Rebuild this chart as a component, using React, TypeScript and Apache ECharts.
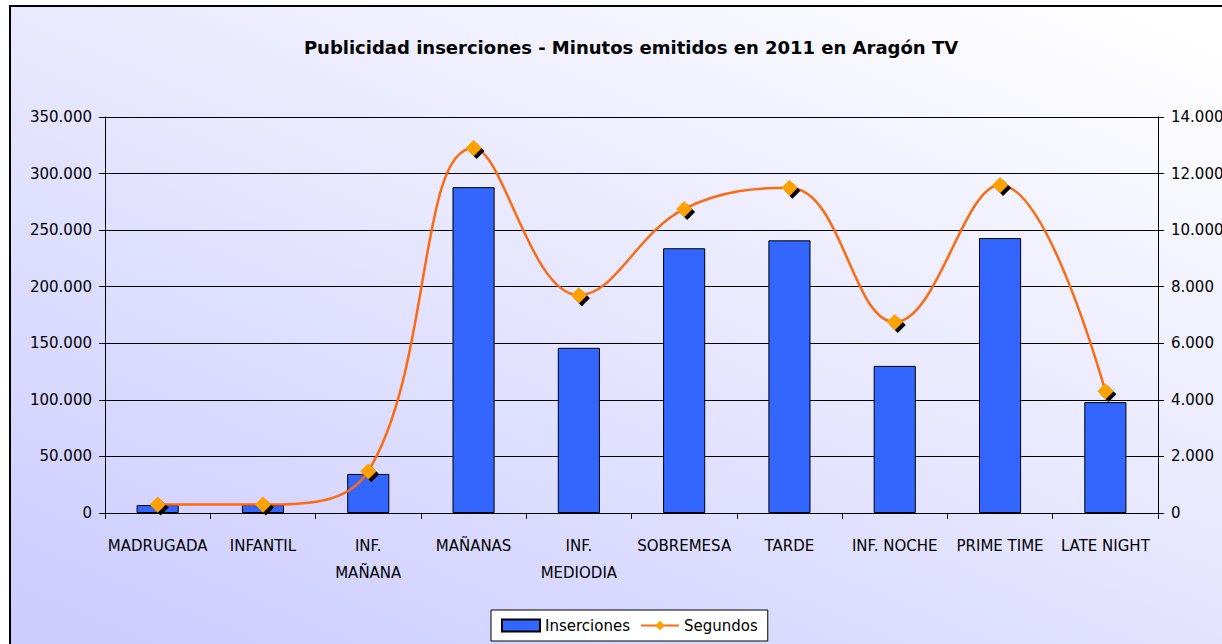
import React, { useEffect, useRef } from "react";
import * as echarts from "echarts";

const categories = [
  "MADRUGADA",
  "INFANTIL",
  "INF.\nMAÑANA",
  "MAÑANAS",
  "INF.\nMEDIODIA",
  "SOBREMESA",
  "TARDE",
  "INF. NOCHE",
  "PRIME TIME",
  "LATE NIGHT",
];
const inserciones = [7000, 7000, 34500, 288000, 146000, 234000, 241000, 130000, 243000, 98000];
const segundos = [300, 300, 1480, 12900, 7700, 10750, 11500, 6750, 11600, 4300];
const titleText = "Publicidad inserciones - Minutos emitidos en 2011 en Aragón TV";

const fmt = (v: number) => String(v).replace(/\B(?=(\d{3})+(?!\d))/g, ".");

const FONT = "DejaVu Sans";

export default function App() {
  const ref = useRef<HTMLDivElement>(null);
  useEffect(() => {
    if (!ref.current) return;
    const chart = echarts.init(ref.current, null, { renderer: "svg" });
    chart.setOption({
      animation: false,
      backgroundColor: new echarts.graphic.LinearGradient(0.9, 0, 0.1, 1, [
        { offset: 0, color: "#ffffff" },
        { offset: 1, color: "#ccccff" },
      ]),
      textStyle: { fontFamily: FONT },
      title: {
        text: titleText,
        left: 615,
        textAlign: "center",
        top: 26,
        textStyle: { fontFamily: FONT, fontSize: 18, fontWeight: "bold", color: "#000" },
      },
      legend: {
        left: 480,
        top: 603,
        backgroundColor: "#ffffff",
        borderColor: "#000",
        borderWidth: 1,
        borderRadius: 0,
        padding: [8, 10, 8, 10],
        itemGap: 10,
        itemWidth: 38,
        itemHeight: 12,
        textStyle: { fontFamily: FONT, fontSize: 15, color: "#000" },
        data: [
          { name: "Inserciones", icon: "rect" },
          { name: "Segundos" },
        ],
      },
      grid: { left: 94, right: 93, top: 110, height: 396 },
      xAxis: {
        type: "category",
        data: categories,
        axisLine: { lineStyle: { color: "#000", width: 1 } },
        axisTick: { show: true, length: 6, lineStyle: { color: "#000" } },
        axisLabel: {
          color: "#000",
          fontFamily: FONT,
          fontSize: 15,
          margin: 19,
          lineHeight: 27,
          interval: 0,
        },
      },
      yAxis: [
        {
          type: "value",
          min: 0,
          max: 350000,
          interval: 50000,
          axisLine: { show: true, lineStyle: { color: "#000" } },
          axisTick: { show: true, length: 6, lineStyle: { color: "#000" } },
          splitLine: { show: true, lineStyle: { color: "#000", width: 1 } },
          axisLabel: { color: "#000", fontFamily: FONT, fontSize: 15, margin: 13, formatter: fmt },
        },
        {
          type: "value",
          min: 0,
          max: 14000,
          interval: 2000,
          position: "right",
          axisLine: { show: true, lineStyle: { color: "#000" } },
          axisTick: { show: true, length: 6, lineStyle: { color: "#000" } },
          splitLine: { show: false },
          axisLabel: { color: "#000", fontFamily: FONT, fontSize: 15, margin: 13, formatter: fmt },
        },
      ],
      series: [
        {
          name: "Inserciones",
          type: "bar",
          data: inserciones,
          barWidth: "40%",
          itemStyle: { color: "#3366ff", borderColor: "#000", borderWidth: 1 },
        },
        {
          name: "Segundos",
          type: "line",
          yAxisIndex: 1,
          data: segundos,
          smooth: 0.4,
          symbol: "diamond",
          symbolSize: 16,
          lineStyle: { color: "#ff6a10", width: 2.5 },
          itemStyle: {
            color: "#ffa200",
            borderWidth: 0,
            shadowColor: "#000",
            shadowOffsetX: 3,
            shadowOffsetY: 3,
            shadowBlur: 0,
          },
        },
      ],
    });
    return () => chart.dispose();
  }, []);
  return (
    <div style={{ position: "fixed", left: 0, top: 0, width: 1222, height: 644, overflow: "hidden", background: "#fff" }}>
      <div
        style={{
          position: "absolute",
          left: 9,
          top: 5,
          width: 1240,
          height: 660,
          borderLeft: "2px solid #000",
          borderTop: "2px solid #000",
        }}
      >
        <div ref={ref} style={{ width: 1240, height: 660 }} />
      </div>
    </div>
  );
}
